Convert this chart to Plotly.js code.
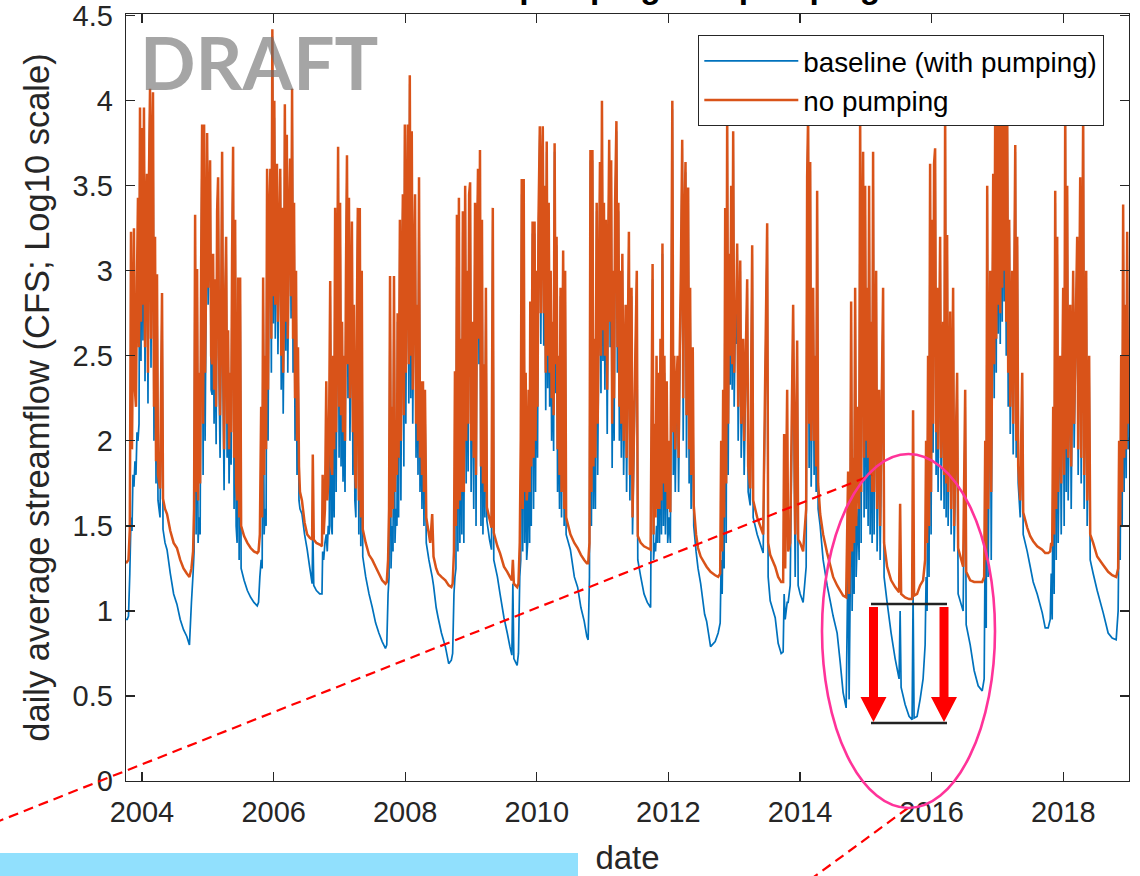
<!DOCTYPE html>
<html>
<head>
<meta charset="utf-8">
<script src="https://cdn.plot.ly/plotly-3.0.1.min.js"></script>
<style>
html,body{margin:0;padding:0;background:#ffffff;}
#chart{width:1140px;height:876px;}
</style>
</head>
<body>
<div id="chart"></div>
<script>
// ---------------- data ----------------
const seriesNames = ['baseline (with pumping)', 'no pumping'];
const xTickYears = ['2004','2006','2008','2010','2012','2014','2016','2018'];
const yTickValues = [0,0.5,1,1.5,2,2.5,3,3.5,4,4.5];
const yTickLabels = ['0','0.5','1','1.5','2','2.5','3','3.5','4','4.5'];

// time of each sample, decimal year (one line per water year)
const decYear = [
2003.757,2003.775,2003.795,2003.815,2003.833,2003.848,2003.863,2003.878,2003.893,2003.909,2003.924,2003.939,2003.955,2003.970,2003.985,2004.000,2004.015,2004.030,2004.046,2004.061,2004.076,2004.091,2004.106,2004.122,2004.137,2004.152,2004.167,2004.182,2004.198,2004.213,2004.228,2004.243,2004.274,2004.304,2004.319,2004.350,2004.380,2004.430,2004.480,2004.530,2004.580,2004.630,2004.680,2004.720,
2004.750,2004.775,2004.790,2004.806,2004.821,2004.836,2004.851,2004.866,2004.882,2004.897,2004.912,2004.927,2004.942,2004.957,2004.973,2004.988,2005.003,2005.018,2005.033,2005.049,2005.064,2005.079,2005.094,2005.109,2005.125,2005.140,2005.155,2005.170,2005.185,2005.201,2005.216,2005.231,2005.246,2005.262,2005.277,2005.292,2005.307,2005.322,2005.338,2005.353,2005.368,2005.383,2005.398,2005.414,2005.429,2005.444,2005.460,2005.475,2005.490,2005.505,2005.550,2005.600,2005.650,2005.700,2005.750,
2005.770,2005.790,2005.810,2005.825,2005.840,2005.855,2005.870,2005.885,2005.900,2005.915,2005.930,2005.950,2005.965,2005.980,2005.995,2006.010,2006.025,2006.040,2006.050,2006.065,2006.080,2006.100,2006.115,2006.130,2006.145,2006.160,2006.170,2006.185,2006.200,2006.215,2006.230,2006.250,2006.265,2006.280,2006.295,2006.310,2006.325,2006.340,2006.355,2006.370,2006.385,2006.400,2006.430,2006.470,2006.510,2006.550,2006.585,2006.595,2006.610,2006.650,2006.700,2006.735,2006.745,2006.760,
2006.780,2006.800,2006.815,2006.830,2006.845,2006.860,2006.875,2006.890,2006.905,2006.920,2006.935,2006.950,2006.965,2006.980,2006.995,2007.010,2007.025,2007.040,2007.055,2007.070,2007.085,2007.100,2007.115,2007.130,2007.145,2007.160,2007.175,2007.190,2007.205,2007.220,2007.235,2007.250,2007.265,2007.280,2007.295,2007.310,2007.325,2007.340,2007.355,2007.400,2007.450,2007.500,2007.550,2007.600,2007.650,2007.700,
2007.720,2007.740,2007.755,2007.770,2007.785,2007.800,2007.815,2007.830,2007.845,2007.860,2007.875,2007.885,2007.900,2007.920,2007.935,2007.950,2007.965,2007.980,2007.995,2008.010,2008.025,2008.040,2008.055,2008.070,2008.085,2008.100,2008.115,2008.130,2008.150,2008.165,2008.180,2008.195,2008.210,2008.225,2008.240,2008.255,2008.270,2008.285,2008.300,2008.320,2008.360,2008.380,2008.410,2008.430,2008.470,2008.500,2008.550,2008.610,2008.660,2008.700,
2008.720,2008.740,2008.755,2008.770,2008.785,2008.800,2008.815,2008.830,2008.845,2008.860,2008.875,2008.890,2008.910,2008.925,2008.940,2008.955,2008.970,2008.985,2009.000,2009.020,2009.040,2009.060,2009.075,2009.090,2009.105,2009.120,2009.135,2009.150,2009.165,2009.180,2009.195,2009.210,2009.225,2009.240,2009.280,2009.310,2009.330,2009.345,2009.400,2009.440,2009.500,2009.550,2009.590,2009.620,2009.635,2009.650,2009.700,
2009.720,2009.740,2009.755,2009.770,2009.785,2009.800,2009.815,2009.830,2009.845,2009.860,2009.875,2009.890,2009.900,2009.915,2009.935,2009.950,2009.965,2009.980,2009.995,2010.010,2010.025,2010.045,2010.060,2010.075,2010.090,2010.105,2010.120,2010.135,2010.150,2010.165,2010.180,2010.195,2010.210,2010.225,2010.240,2010.255,2010.270,2010.285,2010.300,2010.315,2010.330,2010.345,2010.360,2010.375,2010.400,2010.415,2010.430,2010.445,2010.510,2010.570,2010.620,2010.670,2010.720,2010.760,2010.780,
2010.800,2010.815,2010.830,2010.845,2010.860,2010.875,2010.890,2010.910,2010.925,2010.945,2010.960,2010.975,2010.990,2011.005,2011.020,2011.035,2011.050,2011.070,2011.085,2011.100,2011.115,2011.130,2011.145,2011.160,2011.175,2011.190,2011.210,2011.225,2011.240,2011.255,2011.270,2011.285,2011.300,2011.320,2011.350,2011.365,2011.400,2011.415,2011.440,2011.455,2011.520,2011.535,2011.580,2011.630,2011.680,2011.730,
2011.760,2011.775,2011.790,2011.805,2011.820,2011.835,2011.850,2011.865,2011.880,2011.895,2011.910,2011.925,2011.940,2011.955,2011.975,2011.990,2012.010,2012.030,2012.045,2012.060,2012.075,2012.090,2012.105,2012.120,2012.140,2012.155,2012.170,2012.190,2012.210,2012.225,2012.240,2012.260,2012.275,2012.300,2012.315,2012.330,2012.345,2012.370,2012.385,2012.420,2012.450,2012.490,2012.550,2012.580,2012.640,
2012.710,2012.755,2012.786,2012.801,2012.816,2012.831,2012.846,2012.862,2012.877,2012.892,2012.907,2012.922,2012.938,2012.953,2012.968,2012.983,2012.998,2013.014,2013.029,2013.044,2013.059,2013.090,2013.105,2013.135,2013.150,2013.196,2013.211,2013.242,2013.272,2013.287,2013.348,2013.439,2013.500,2013.515,2013.546,2013.622,2013.667,2013.713,
2013.743,2013.758,2013.774,2013.804,2013.819,2013.850,2013.895,2013.926,2013.956,2013.971,2014.002,2014.047,2014.093,2014.108,2014.123,2014.138,2014.154,2014.169,2014.199,2014.214,2014.230,2014.245,2014.260,2014.275,2014.306,2014.351,2014.412,2014.458,2014.503,2014.564,2014.610,2014.655,2014.701,
2014.731,2014.746,2014.762,2014.777,2014.792,2014.807,2014.822,2014.838,2014.853,2014.883,2014.898,2014.914,2014.929,2014.944,2014.959,2014.974,2014.990,2015.005,2015.020,2015.035,2015.050,2015.066,2015.081,2015.096,2015.111,2015.126,2015.157,2015.172,2015.202,2015.218,2015.263,2015.278,2015.324,2015.385,2015.446,2015.506,2015.522,2015.537,2015.598,2015.658,2015.704,2015.719,2015.734,2015.780,2015.826,2015.871,
2015.902,2015.917,2015.932,2015.947,2015.962,2015.978,2015.993,2016.008,2016.023,2016.038,2016.054,2016.069,2016.084,2016.099,2016.130,2016.145,2016.175,2016.190,2016.206,2016.221,2016.236,2016.251,2016.282,2016.297,2016.327,2016.342,2016.388,2016.403,2016.479,2016.510,2016.525,2016.586,2016.646,2016.707,2016.768,
2016.798,2016.814,2016.829,2016.844,2016.859,2016.890,2016.905,2016.935,2016.950,2016.966,2016.981,2016.996,2017.011,2017.026,2017.042,2017.057,2017.072,2017.087,2017.102,2017.118,2017.133,2017.148,2017.163,2017.178,2017.194,2017.224,2017.239,2017.270,2017.285,2017.300,2017.315,2017.346,2017.376,2017.391,2017.452,2017.498,2017.543,2017.604,2017.680,2017.726,2017.771,
2017.802,2017.817,2017.832,2017.847,2017.862,2017.878,2017.893,2017.908,2017.923,2017.954,2017.969,2017.999,2018.014,2018.030,2018.045,2018.060,2018.075,2018.106,2018.121,2018.151,2018.166,2018.212,2018.227,2018.258,2018.273,2018.303,2018.318,2018.349,2018.364,2018.394,2018.410,2018.455,2018.516,2018.607,2018.683,2018.744,2018.805,
2018.835,2018.850,2018.866,2018.881,2018.896,2018.911,2018.926,2018.942,2018.957,2018.972,2018.987,2019.002
];

// baseline (with pumping), log10 CFS
const baseline = [
0.95,0.95,0.97,1.22,1.55,1.47,1.80,1.73,1.88,1.80,2.05,2.00,2.10,3.90,2.47,3.80,2.59,3.90,2.35,3.30,3.52,2.22,3.50,4.02,2.43,3.62,4.00,2.00,3.10,1.75,2.90,1.65,1.55,2.80,1.48,1.40,1.36,1.22,1.10,1.04,0.95,0.89,0.85,0.80,
1.05,1.22,1.35,3.28,1.45,2.95,1.40,1.55,1.45,2.90,3.80,1.80,3.80,2.00,2.80,3.75,2.80,3.20,3.60,2.30,2.27,3.00,2.10,2.85,1.98,3.30,3.50,2.35,1.90,2.60,3.65,2.29,1.71,2.70,3.15,1.90,2.50,1.75,2.20,1.86,3.00,3.68,1.60,3.25,1.50,1.40,2.90,1.30,2.90,1.25,1.18,1.12,1.08,1.05,1.03,
1.05,1.20,1.30,1.25,2.85,1.45,1.60,1.50,3.55,2.00,3.20,3.55,2.40,4.38,2.69,3.90,2.60,3.10,3.58,2.51,3.00,3.55,2.30,3.32,2.16,2.80,3.93,2.53,3.75,2.40,3.10,3.60,2.72,4.02,2.40,3.35,2.00,2.90,1.80,2.50,1.65,1.60,1.57,1.45,1.36,1.25,1.16,1.50,1.15,1.12,1.10,1.10,1.35,1.30,
1.40,1.45,1.35,1.50,1.45,2.85,1.50,1.45,2.20,1.55,3.30,1.70,2.60,3.68,1.90,3.30,1.85,2.50,1.76,2.20,1.70,2.90,3.63,2.25,3.38,2.00,2.50,3.24,1.80,2.70,1.65,1.55,2.60,3.32,1.45,3.30,1.38,2.90,1.32,1.20,1.10,1.02,0.93,0.87,0.82,0.78,
0.80,1.10,1.20,2.90,1.25,1.50,1.35,2.85,1.40,1.60,1.50,2.70,1.55,3.25,1.65,2.80,3.40,1.85,3.80,2.10,3.10,3.80,2.22,4.10,2.25,3.77,2.10,2.80,3.40,1.90,2.70,1.80,3.50,1.70,2.30,1.60,2.30,1.50,2.25,1.40,1.30,1.26,1.20,1.15,1.02,0.96,0.87,0.79,0.69,0.71,
0.75,1.10,1.20,1.25,3.25,1.35,3.35,1.40,2.50,1.45,3.30,1.40,3.45,1.75,2.90,1.82,3.40,3.47,1.70,2.60,1.60,3.35,1.50,3.00,3.55,2.45,3.66,1.50,3.25,1.45,2.35,1.55,2.80,1.53,1.42,1.36,3.30,1.30,1.20,1.10,0.96,0.87,0.79,0.74,1.16,0.72,0.68,
0.75,1.20,1.30,3.45,1.35,3.45,1.40,2.20,1.30,1.40,2.10,1.40,2.75,1.50,3.22,1.60,3.22,1.70,2.90,1.90,3.20,3.80,2.57,3.40,3.80,2.56,3.45,2.18,3.70,2.31,3.35,2.20,2.90,2.00,2.60,1.94,3.70,2.28,3.15,1.70,2.40,1.60,2.85,1.55,3.05,1.50,2.90,1.45,1.36,1.20,1.14,1.02,0.94,0.85,0.83,
1.20,3.65,1.50,3.65,1.60,2.40,1.60,3.35,1.80,2.80,3.58,2.28,3.95,2.47,3.30,2.30,3.25,2.04,3.00,3.70,2.55,3.60,1.84,2.90,2.00,3.30,3.82,2.40,3.35,2.00,2.90,1.90,3.00,1.80,2.70,1.70,3.18,1.65,2.85,1.45,2.95,1.30,1.20,1.10,1.05,1.02,
2.95,1.30,1.40,1.35,1.50,1.40,2.20,1.40,2.50,1.45,3.10,1.50,2.40,1.45,2.20,1.40,1.55,1.40,2.60,3.95,1.80,2.30,1.70,2.20,2.40,1.70,2.27,2.90,3.72,2.00,3.10,3.58,1.90,3.44,1.75,2.80,1.60,2.40,1.50,1.35,1.25,1.16,0.98,0.94,0.79,
0.82,0.87,0.93,1.30,1.10,1.60,1.25,3.30,1.40,3.85,1.80,3.00,2.33,3.40,2.30,3.78,2.20,2.70,2.57,3.10,2.00,3.00,1.90,2.50,1.80,2.90,1.70,1.62,3.10,1.55,1.45,1.34,3.20,1.20,1.06,0.96,0.81,0.75,
0.76,1.10,0.95,1.05,1.05,1.15,2.70,1.20,2.50,1.15,1.10,1.05,1.26,3.50,3.85,1.84,3.60,1.73,2.80,1.80,2.40,1.70,3.40,1.60,1.50,1.30,1.15,1.06,0.97,0.87,0.70,0.52,0.43,
1.40,0.48,1.10,2.75,1.00,1.50,1.10,2.80,1.20,1.60,1.30,3.85,1.40,3.00,3.65,1.55,3.40,1.60,2.80,1.50,3.40,1.45,2.60,1.40,3.65,1.45,2.90,1.35,2.20,1.30,2.80,1.20,1.05,0.87,0.72,0.60,1.00,0.55,0.45,0.38,0.36,1.10,0.37,0.38,0.48,0.60,
0.80,1.20,1.00,2.40,1.20,3.58,1.45,3.20,1.93,3.58,3.68,1.80,2.80,1.70,3.10,1.65,2.60,1.60,3.90,1.55,3.15,1.50,2.70,1.45,2.80,1.35,2.30,1.10,1.00,2.20,0.92,0.80,0.65,0.56,0.53,
0.60,1.50,0.90,3.45,1.20,2.90,1.30,3.52,2.25,3.95,2.40,4.15,2.63,3.85,2.57,4.25,2.70,4.05,2.82,3.95,2.50,3.85,2.20,3.25,2.04,2.90,1.92,3.70,1.90,3.15,1.75,1.55,2.30,1.45,1.35,1.26,1.17,1.10,0.99,0.90,0.90,
0.95,1.22,0.95,2.10,1.10,3.40,1.30,3.10,1.40,2.40,1.45,2.80,1.50,3.90,1.70,3.45,1.65,2.70,1.60,2.90,1.96,3.15,1.80,3.50,1.75,3.85,1.60,2.90,1.50,2.40,1.30,1.22,1.12,0.99,0.87,0.84,0.83,
1.00,1.60,1.30,2.40,1.50,3.30,1.70,2.70,1.78,3.15,1.95,2.02
];

// no pumping, log10 CFS
const noPumping = [
1.28,1.29,1.30,1.48,3.23,1.95,2.60,3.25,2.30,2.20,2.95,3.43,2.55,3.96,2.70,3.84,2.80,3.96,2.55,3.35,3.57,2.40,3.55,4.07,2.60,3.66,4.05,2.20,3.20,1.88,2.98,1.80,1.72,2.87,1.66,1.60,1.57,1.47,1.40,1.37,1.30,1.25,1.22,1.20,
1.25,1.35,1.60,3.33,1.70,3.01,1.65,2.40,1.75,3.00,3.86,2.10,3.86,2.40,2.95,3.81,2.90,3.30,3.65,2.50,2.45,3.10,2.30,2.95,2.20,3.35,3.55,2.50,2.15,2.75,3.70,2.45,1.95,2.85,3.20,2.10,2.65,1.95,2.40,2.05,3.10,3.73,1.90,3.30,1.75,1.65,2.96,1.55,2.96,1.50,1.44,1.40,1.37,1.35,1.34,
1.35,1.45,2.20,1.55,2.96,1.80,2.50,1.95,3.60,2.30,3.30,3.60,2.60,4.42,2.85,4.00,2.80,3.20,3.63,2.70,3.10,3.60,2.50,3.37,2.40,2.90,3.98,2.70,3.80,2.60,3.20,3.66,2.85,4.07,2.60,3.40,2.25,3.00,2.00,2.55,1.85,1.70,1.65,1.52,1.45,1.43,1.42,1.92,1.42,1.40,1.39,1.38,1.80,1.45,
1.60,2.35,1.65,1.75,2.20,2.94,1.85,1.80,2.50,1.95,3.37,2.05,2.80,3.73,2.20,3.40,2.15,2.70,2.05,2.50,2.00,3.00,3.68,2.45,3.43,2.25,2.65,3.29,2.05,2.80,1.85,1.72,2.70,3.37,1.65,3.37,1.55,3.00,1.48,1.40,1.33,1.30,1.26,1.22,1.18,1.16,
1.17,1.30,1.60,2.97,1.55,2.20,1.60,2.97,1.70,2.10,1.80,2.75,1.90,3.30,2.00,2.90,3.45,2.15,3.86,2.40,3.20,3.86,2.45,4.15,2.50,3.82,2.30,2.90,3.45,2.10,2.80,2.00,3.55,1.90,2.35,1.80,2.35,1.70,2.30,1.55,1.45,1.40,1.57,1.32,1.25,1.22,1.20,1.18,1.15,1.14,
1.16,1.35,2.41,1.50,3.33,1.60,3.43,1.65,2.60,1.70,3.35,1.70,3.50,2.00,3.00,2.10,3.45,3.52,2.00,2.70,1.90,3.40,1.80,3.10,3.60,2.60,3.71,1.85,3.30,1.75,2.45,1.70,2.90,1.61,1.54,1.49,3.37,1.46,1.38,1.34,1.26,1.23,1.20,1.18,1.30,1.16,1.14,
1.16,1.40,2.00,3.54,1.60,3.54,1.70,2.40,1.65,1.75,2.30,1.70,2.82,1.85,3.29,1.90,3.29,2.00,3.00,2.20,3.30,3.85,2.75,3.50,3.85,2.75,3.50,2.40,3.76,2.50,3.40,2.40,3.00,2.25,2.70,2.15,3.75,2.45,3.20,1.95,2.50,1.80,2.90,1.70,3.12,1.60,3.00,1.55,1.45,1.40,1.37,1.33,1.30,1.28,1.28,
1.40,3.71,1.70,3.71,1.85,2.60,1.90,3.40,2.10,2.90,3.64,2.50,4.00,2.65,3.40,2.50,3.30,2.30,3.10,3.77,2.70,3.65,2.10,3.00,2.25,3.40,3.88,2.55,3.40,2.20,3.00,2.10,3.10,2.00,2.80,1.90,3.23,1.80,2.90,1.55,3.00,1.44,1.40,1.38,1.37,1.36,
3.04,1.45,2.10,1.55,2.50,1.60,2.40,1.60,2.60,1.65,3.16,1.75,2.50,1.70,2.35,1.60,2.00,1.58,2.75,4.00,2.05,2.50,1.95,2.30,2.50,1.90,2.45,3.00,3.77,2.25,3.20,3.64,2.15,3.49,1.95,2.90,1.80,2.55,1.62,1.45,1.37,1.32,1.28,1.26,1.23,
1.21,1.20,1.22,2.00,1.35,2.30,1.55,3.37,1.75,3.92,2.10,3.10,2.50,3.50,2.45,3.82,2.40,2.80,2.75,3.16,2.20,3.06,2.10,2.60,2.00,2.95,1.85,1.72,3.15,1.65,1.55,1.45,3.28,1.40,1.33,1.26,1.20,1.17,
1.17,2.04,1.25,2.30,1.35,1.40,2.80,1.45,2.59,1.42,1.40,1.35,1.60,3.55,3.92,2.10,3.64,2.00,2.90,2.00,2.50,1.85,3.47,1.75,1.57,1.45,1.34,1.27,1.20,1.15,1.12,1.09,1.08,
1.82,1.10,1.40,2.82,1.35,1.90,1.40,2.90,1.50,2.20,1.60,3.92,1.70,3.10,3.70,1.90,3.50,2.00,2.90,1.90,3.50,1.80,2.70,1.70,3.70,1.70,3.00,1.60,2.30,1.50,2.90,1.40,1.26,1.18,1.14,1.11,1.63,1.10,1.08,1.07,1.07,2.18,1.09,1.10,1.15,1.18,
1.30,2.00,1.40,2.50,1.50,3.63,1.70,3.30,2.10,3.63,3.72,2.05,2.90,1.95,3.20,1.90,2.70,1.80,3.95,1.75,3.21,1.70,2.76,1.60,2.90,1.50,2.40,1.37,1.26,2.30,1.23,1.18,1.17,1.17,1.17,
1.20,2.00,1.30,3.50,1.60,3.00,1.70,3.57,2.45,4.00,2.60,4.20,2.80,3.90,2.75,4.30,2.90,4.10,3.00,4.00,2.70,3.90,2.40,3.30,2.20,3.00,2.10,3.74,2.00,3.20,1.85,1.65,2.40,1.58,1.49,1.44,1.41,1.38,1.36,1.34,1.34,
1.35,1.40,1.38,2.20,1.45,3.47,1.60,3.20,1.70,2.50,1.75,2.90,1.80,3.95,1.95,3.50,1.90,2.80,1.85,3.00,2.10,3.20,1.95,3.55,1.90,3.92,1.80,3.00,1.65,2.50,1.45,1.40,1.32,1.27,1.23,1.21,1.20,
1.25,2.00,1.50,2.50,1.70,3.39,1.90,2.80,1.95,3.23,2.10,2.60
];

if (decYear.length !== baseline.length || decYear.length !== noPumping.length) {
  throw new Error('array length mismatch: ' + decYear.length + ' / ' + baseline.length + ' / ' + noPumping.length);
}

// decimal year -> date string
function toDate(t) {
  const y = Math.floor(t);
  const a = Date.UTC(y, 0, 1), b = Date.UTC(y + 1, 0, 1);
  return new Date(a + (t - y) * (b - a)).toISOString().slice(0, 19).replace('T', ' ');
}
const dates = decYear.map(toDate);

// ---------------- page geometry (for the hand-drawn callouts) ----------------
const W = 1140, H = 876, ML = 126, MR = 11, MT = 14, MB = 95;
const PW = W - ML - MR, PH = H - MT - MB;
const X = px => (px - ML) / PW;          // page px -> paper x
const Y = py => (H - MB - py) / PH;      // page px -> paper y

const FONT = 'Liberation Sans, Arial, Helvetica, sans-serif';
const AX = '#262626';

function arrowPath(cx, top, tip, shaftW, headW, headH) {
  const s = shaftW / 2, h = headW / 2, hb = tip - headH;
  const pts = [[cx - s, top], [cx + s, top], [cx + s, hb], [cx + h, hb], [cx, tip], [cx - h, hb], [cx - s, hb]];
  return 'M' + pts.map(p => X(p[0]).toFixed(5) + ',' + Y(p[1]).toFixed(5)).join(' L') + ' Z';
}

const traces = [
  {
    type: 'scatter', mode: 'lines', name: seriesNames[0],
    x: dates, y: baseline,
    line: {color: '#0072BD', width: 1.7, simplify: false},
    hoverinfo: 'skip'
  },
  {
    type: 'scatter', mode: 'lines', name: seriesNames[1],
    x: dates, y: noPumping,
    line: {color: '#D95319', width: 2.5, simplify: false},
    hoverinfo: 'skip'
  }
];

const layout = {
  width: W, height: H,
  margin: {l: ML, r: MR, t: MT, b: MB, pad: 0},
  paper_bgcolor: '#ffffff', plot_bgcolor: '#ffffff',
  font: {family: FONT, color: AX},
  showlegend: true,
  legend: {
    x: X(1104), xanchor: 'right', y: Y(35), yanchor: 'top',
    bgcolor: '#ffffff', bordercolor: AX, borderwidth: 1.3,
    font: {family: FONT, size: 27.8, color: '#000000'},
    itemwidth: 94, tracegroupgap: 0
  },
  xaxis: {
    type: 'date',
    range: [toDate(2003.757), toDate(2019.0)],
    tickmode: 'array',
    tickvals: xTickYears.map(y => y + '-01-01'),
    ticktext: xTickYears,
    ticks: 'inside', ticklen: 9, tickwidth: 1.2, tickcolor: AX,
    showline: true, linecolor: AX, linewidth: 1.3, mirror: 'ticks',
    showgrid: false, zeroline: false,
    tickfont: {family: FONT, size: 29, color: AX},
    ticklabelstandoff: 5,
    title: {text: 'date', font: {family: FONT, size: 33, color: AX}, standoff: 23}
  },
  yaxis: {
    range: [0, 4.51],
    tickmode: 'array', tickvals: yTickValues, ticktext: yTickLabels,
    ticks: 'inside', ticklen: 9, tickwidth: 1.2, tickcolor: AX,
    showline: true, linecolor: AX, linewidth: 1.3, mirror: 'ticks',
    showgrid: false, zeroline: false,
    tickfont: {family: FONT, size: 29, color: AX},
    ticklabelstandoff: 6,
    ticklabeloverflow: 'allow',
    title: {text: 'daily average streamflow (CFS; Log10 scale)', font: {family: FONT, size: 34.5, color: AX}, standoff: 12}
  },
  shapes: [
    // long red dashed callout line
    {type: 'line', xref: 'paper', yref: 'paper', layer: 'above',
     x0: X(-6), y0: Y(823), x1: X(872), y1: Y(475),
     line: {color: '#ff0000', width: 2.2, dash: '10px,6px'}},
    // short red dashed line below the ellipse
    {type: 'line', xref: 'paper', yref: 'paper', layer: 'above',
     x0: X(908), y0: Y(808), x1: X(792), y1: Y(893),
     line: {color: '#ff0000', width: 2.2, dash: '10px,6px'}},
    // pink ellipse
    {type: 'circle', xref: 'paper', yref: 'paper', layer: 'above',
     x0: X(822), x1: X(995), y0: Y(808), y1: Y(454),
     line: {color: '#ff3399', width: 2.6}},
    // black reference lines
    {type: 'line', xref: 'paper', yref: 'paper', layer: 'above',
     x0: X(871), x1: X(947), y0: Y(604), y1: Y(604), line: {color: '#222222', width: 2.6}},
    {type: 'line', xref: 'paper', yref: 'paper', layer: 'above',
     x0: X(871), x1: X(947), y0: Y(723), y1: Y(723), line: {color: '#222222', width: 2.6}},
    // red arrows
    {type: 'path', xref: 'paper', yref: 'paper', layer: 'above',
     path: arrowPath(873.5, 607, 722, 9, 26, 25), fillcolor: '#ff0000', line: {width: 0}},
    {type: 'path', xref: 'paper', yref: 'paper', layer: 'above',
     path: arrowPath(944, 607, 722, 9, 26, 25), fillcolor: '#ff0000', line: {width: 0}},
    // light blue strip at the bottom
    {type: 'rect', xref: 'paper', yref: 'paper', layer: 'above',
     x0: X(-4), x1: X(578), y0: Y(853), y1: Y(884),
     fillcolor: '#91e0fd', line: {width: 0}}
  ],
  annotations: [
    {xref: 'paper', yref: 'paper', x: X(259), y: Y(62), xanchor: 'center', yanchor: 'middle',
     showarrow: false, text: '<b>DRAFT</b>',
     font: {family: 'Lato, Open Sans, sans-serif', size: 73, color: 'rgba(105,105,105,0.6)'}},
    {xref: 'paper', yref: 'paper', x: X(627.5), y: Y(-13.6), xanchor: 'center', yanchor: 'middle',
     showarrow: false, text: '<b>Effect of pumping / no pumping</b>',
     font: {family: FONT, size: 33.5, color: '#000000'}}
  ]
};

Plotly.newPlot('chart', traces, layout, {staticPlot: true, displayModeBar: false});
</script>
</body>
</html>
